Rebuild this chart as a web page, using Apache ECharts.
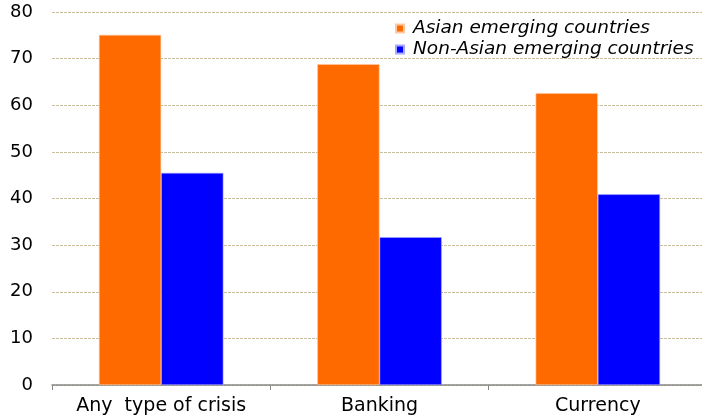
<!DOCTYPE html>
<html>
<head>
<meta charset="utf-8">
<script src="https://cdn.jsdelivr.net/npm/echarts@6/dist/echarts.min.js"></script>
<style>
  html, body { margin: 0; padding: 0; background: #fff; overflow: hidden; }
  #chart { width: 708px; height: 419px; }
</style>
</head>
<body>
<div id="chart"></div>
<script>
// Share of crisis episodes by type, Asian vs non-Asian emerging economies
const categories = ['Any  type of crisis', 'Banking', 'Currency'];
const asianValues = [75.1, 68.8, 62.6];
const nonAsianValues = [45.5, 31.7, 40.9];
const yTicks = { min: 0, max: 80, interval: 10 };

const FONT = '"DejaVu Sans", "Liberation Sans", Arial, sans-serif';

const chart = echarts.init(document.getElementById('chart'), null, { renderer: 'canvas' });

const option = {
  animation: false,
  backgroundColor: '#ffffff',
  // the plot area runs slightly past the visible right edge
  grid: { left: 52, right: 1, top: 12, bottom: 34, containLabel: false },
  legend: {
    orient: 'vertical',
    left: 390,
    top: 14,
    itemWidth: 8,
    itemHeight: 8,
    itemGap: 2,
    icon: 'rect',
    textStyle: {
      fontFamily: FONT,
      fontStyle: 'italic',
      fontSize: 18.5,
      color: '#000',
      padding: [0, 0, 0, 4]
    },
    data: ['Asian emerging countries', 'Non-Asian emerging countries']
  },
  xAxis: {
    type: 'category',
    data: categories,
    axisLine: { show: true, lineStyle: { color: '#888888', width: 1.5 } },
    axisTick: { show: true, alignWithLabel: false, length: 5, lineStyle: { color: '#888888' } },
    axisLabel: {
      interval: 0,
      fontFamily: FONT,
      fontSize: 19,
      color: '#000',
      margin: 12
    }
  },
  yAxis: {
    type: 'value',
    min: yTicks.min,
    max: yTicks.max,
    interval: yTicks.interval,
    axisLine: { show: false },
    axisTick: { show: false },
    axisLabel: {
      fontFamily: FONT,
      fontSize: 18,
      color: '#000',
      margin: 19
    },
    splitLine: {
      show: true,
      lineStyle: { color: '#c8bf9c', type: [3, 1], width: 1 }
    }
  },
  series: [
    {
      name: 'Asian emerging countries',
      type: 'bar',
      data: asianValues,
      barGap: '0%',
      barCategoryGap: '43%',
      itemStyle: { color: '#ff6a00', borderColor: '#ffc9a6', borderWidth: 0.6 }
    },
    {
      name: 'Non-Asian emerging countries',
      type: 'bar',
      data: nonAsianValues,
      barGap: '0%',
      barCategoryGap: '43%',
      itemStyle: { color: '#0000ff', borderColor: '#a8a8ff', borderWidth: 0.6 }
    }
  ]
};

chart.setOption(option);
</script>
</body>
</html>
